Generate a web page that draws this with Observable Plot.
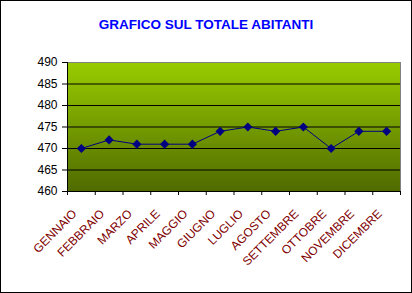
<!DOCTYPE html>
<html><head><meta charset="utf-8">
<script src="https://cdn.jsdelivr.net/npm/d3@7"></script>
<script src="https://cdn.jsdelivr.net/npm/@observablehq/plot@0.6"></script>
<style>
html,body{margin:0;padding:0;background:#fff;}
#wrap{position:relative;width:412px;height:293px;overflow:hidden;background:#fff;}
#title{position:absolute;left:0;top:17px;width:412px;text-align:center;font:bold 13.5px "Liberation Sans",Arial,sans-serif;line-height:16px;color:#0000FF;white-space:nowrap;}
#chart{position:absolute;left:0;top:0;}
#frame{position:absolute;left:0;top:0;width:412px;height:293px;box-sizing:border-box;border:1px solid #000;pointer-events:none;}
</style>
</head><body>
<div id="wrap">
  <div id="chart"></div>
  <div id="title">GRAFICO SUL TOTALE ABITANTI</div>
  <div id="frame"></div>
</div>
<script>
const titolo = "GRAFICO SUL TOTALE ABITANTI";
const mesi = ["GENNAIO","FEBBRAIO","MARZO","APRILE","MAGGIO","GIUGNO","LUGLIO","AGOSTO","SETTEMBRE","OTTOBRE","NOVEMBRE","DICEMBRE"];
const abitanti = [470,472,471,471,471,474,475,474,475,470,474,474];
const yTicks = [460,465,470,475,480,485,490];
const gridTicks = [465,470,475,480,485];

document.getElementById("title").textContent = titolo;

const data = mesi.map((m, i) => ({i, mese: m, v: abitanti[i]}));
const xs = d => d.i + 0.5;

const diamond = {
  draw(ctx) {
    const r = 4.6;
    ctx.moveTo(0, -r); ctx.lineTo(r, 0); ctx.lineTo(0, r); ctx.lineTo(-r, 0); ctx.closePath();
  }
};

const defs = () => {
  const d = d3.create("svg:defs");
  const g = d.append("linearGradient").attr("id", "bgGrad")
    .attr("x1", 0).attr("y1", 0).attr("x2", 0).attr("y2", 1);
  g.append("stop").attr("offset", "0%").attr("stop-color", "#99CC00");
  g.append("stop").attr("offset", "100%").attr("stop-color", "#4F6A00");
  return d.node();
};

const font = "'Liberation Sans', Arial, sans-serif";

const chart = Plot.plot({
  width: 412,
  height: 293,
  marginTop: 62,
  marginBottom: 102,
  marginLeft: 67,
  marginRight: 12,
  style: {background: "transparent", fontFamily: font, fontSize: "12px", color: "black"},
  x: {domain: [0, mesi.length], axis: null, label: null},
  y: {domain: [460, 490], axis: null, label: null},
  marks: [
    defs,
    Plot.frame({fill: "url(#bgGrad)", stroke: "none"}),
    Plot.ruleY(gridTicks, {stroke: "#000", strokeWidth: 1}),
    Plot.ruleY([490], {stroke: "#808080"}),
    Plot.ruleX([mesi.length], {stroke: "#808080"}),
    Plot.axisY({ticks: yTicks, tickSize: 5, tickPadding: 5, fontSize: 12, fill: "#000", stroke: "#000", label: null, tickFormat: d => String(d)}),
    Plot.axisX({ticks: d3.range(0, mesi.length + 1), tickSize: 4, stroke: "#000", label: null, tickFormat: () => ""}),
    Plot.ruleX([0], {stroke: "#000"}),
    Plot.ruleY([460], {stroke: "#000"}),
    Plot.line(data, {x: xs, y: "v", stroke: "#000080", strokeWidth: 1}),
    Plot.dot(data, {x: xs, y: "v", symbol: diamond, r: 4, fill: "#000080", stroke: "none"}),
    Plot.text(data, {x: xs, y: () => 460, text: "mese", rotate: -45, textAnchor: "end", lineAnchor: "bottom", dx: -4, dy: 23, fill: "#800000", fontSize: 12, fontFamily: font})
  ]
});
document.getElementById("chart").appendChild(chart);
</script>
</body></html>
